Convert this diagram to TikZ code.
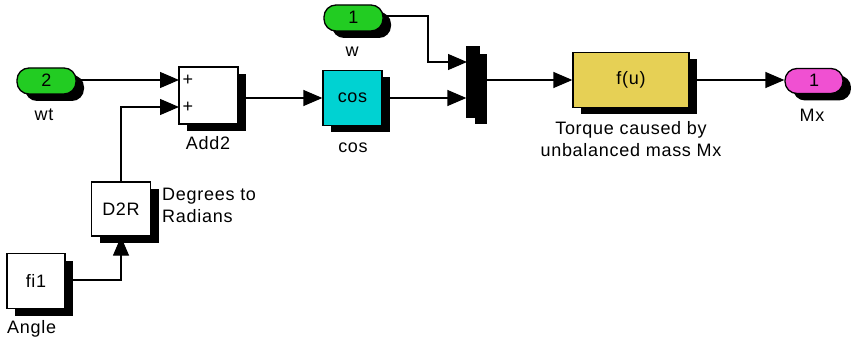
\documentclass[tikz,border=0pt]{standalone}
\usepackage{fontspec}
\setmainfont{Liberation Sans}[LetterSpace=4]
\usetikzlibrary{shadows,arrows.meta}
\definecolor{pgreen}{RGB}{34,204,34}
\definecolor{pcyan}{RGB}{0,210,210}
\definecolor{pyellow}{RGB}{230,208,85}
\definecolor{ppink}{RGB}{240,80,210}
\begin{document}
\begin{tikzpicture}[x=1pt,y=-1pt,
  blk/.style={draw, line width=1.3pt, rectangle, inner sep=0pt, fill=white,
    drop shadow={shadow xshift=8pt, shadow yshift=-7pt, fill=black, opacity=1}},
  pill/.style={blk, rounded corners=12pt, minimum width=59pt, minimum height=26pt},
  wire/.style={line width=1.3pt, -{Triangle[length=19pt,width=16pt]}},
  lbl/.style={font=\fontsize{18}{22}\selectfont, inner sep=0pt},
  plus/.style={font=\fontsize{18}{18}\selectfont, inner sep=0pt}]
\useasboundingbox (0,0) rectangle (851,342);

% blocks
\node[pill, fill=pgreen, lbl] (wt) at (46.5,81) {\raisebox{2pt}{2}};
\node[pill, fill=pgreen, lbl] (w) at (353.5,18) {\raisebox{2pt}{1}};
\node[blk, minimum width=59pt, minimum height=57pt] (add) at (208.5,95.5) {};
\node[plus] at (188,80) {+};
\node[plus] at (188,107) {+};
\node[blk, fill=pcyan, minimum width=59pt, minimum height=55pt, lbl] (cos) at (352.5,98) {cos};
\node[blk, fill=black, minimum width=12pt, minimum height=70pt] (mux) at (473,82) {};
\node[blk, fill=pyellow, minimum width=116pt, minimum height=55pt, lbl] (fu) at (631,80) {f(u)};
\node[pill, fill=ppink, minimum width=58pt, minimum height=25pt, lbl] (mx) at (814,81) {\raisebox{2pt}{1}};
\node[blk, minimum width=59pt, minimum height=54pt, lbl] (d2r) at (121,209) {D2R};
\node[blk, minimum width=58pt, minimum height=55pt, lbl] (fi1) at (36,281) {fi1};

% coordinates
\coordinate (a1) at (179,80);
\coordinate (a2) at (179,107);
\coordinate (wb) at (428,16);
\coordinate (m1) at (467,62);

% wires
\draw[wire] (wt.east |- a1) -- (a1);
\draw[wire] (d2r.north) |- (a2);
\draw[wire] (add.east |- cos.west) -- (cos.west);
\draw[wire] (cos.east) -- (cos.east -| mux.west);
\draw[wire] (w.east |- wb) -- (wb) |- (m1);
\draw[wire] (mux.east |- fu.west) -- (fu.west);
\draw[wire] (fu.east) -- (fu.east -| mx.west);
\draw[wire] (fi1.east |- 0,280) -| (d2r.south);

% labels
\node[lbl] (lwt) at (44,115) {wt};
\node[lbl] (ladd) at (208,143) {Add2};
\node[lbl] (lw) at (352,52) {w};
\node[lbl] (lcos) at (353,148) {cos};
\node[lbl, align=center] (lfu) at (631,139) {Torque caused by\\unbalanced mass Mx};
\node[lbl] (lmx) at (812,115) {Mx};
\node[lbl, align=left, anchor=west] (ld2r) at (162,205) {Degrees to\\Radians};
\node[lbl, anchor=west] (lang) at (7,329) {Angle};
\end{tikzpicture}
\end{document}
